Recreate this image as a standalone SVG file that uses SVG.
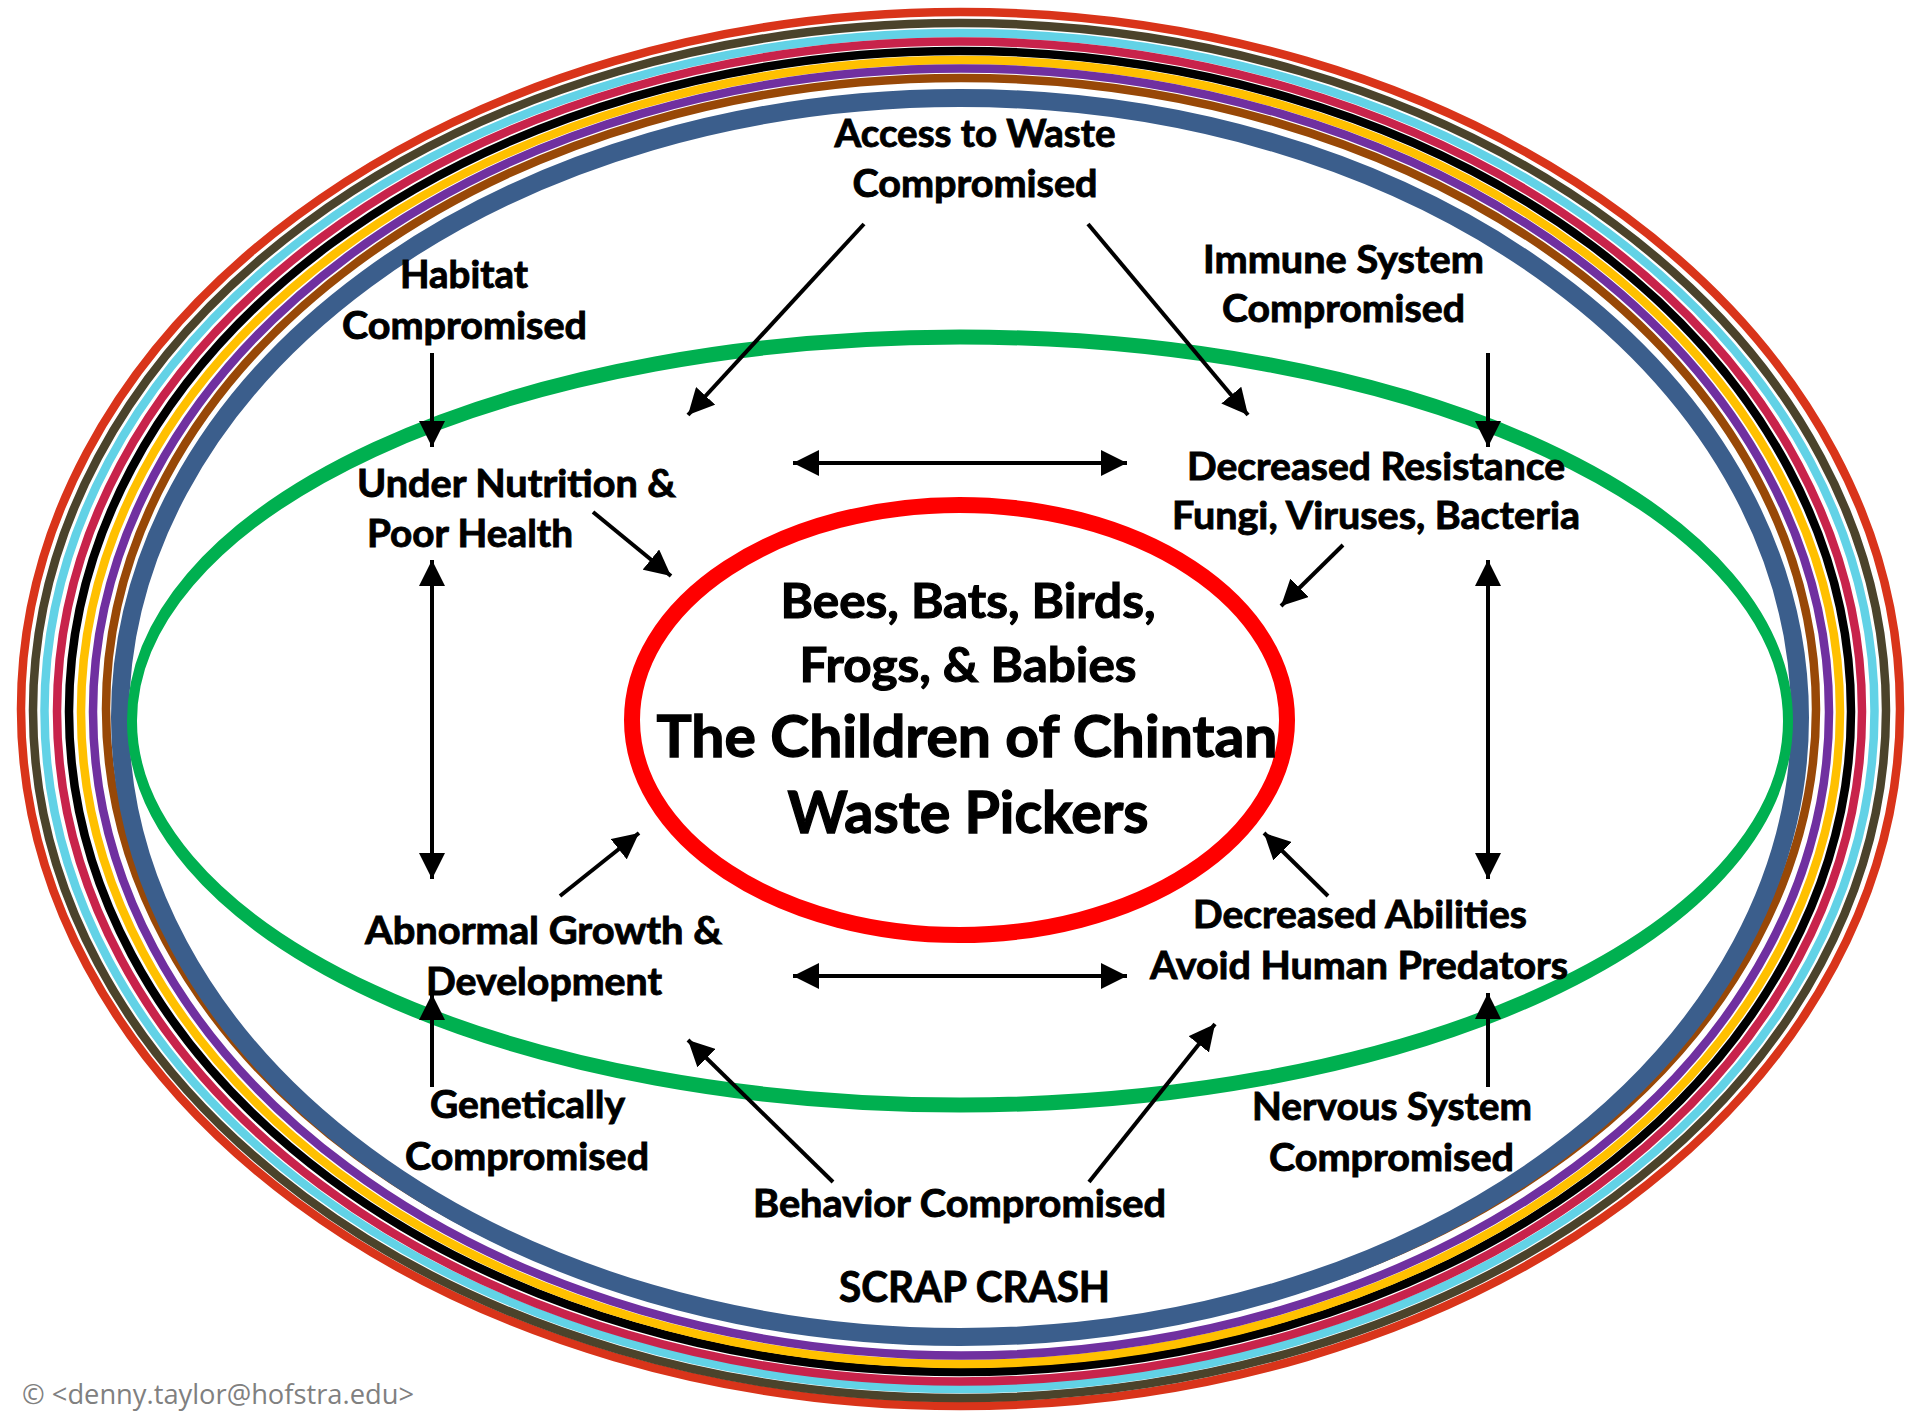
<svg xmlns="http://www.w3.org/2000/svg" width="1920" height="1411" viewBox="0 0 1920 1411">
<style>
.ring{fill:none;stroke-width:8.5}
.ring.thick{stroke-width:18}
.lbl{font-family:Lato,"Open Sans","Liberation Sans",sans-serif;font-weight:bold;font-size:38.5px;fill:#000;stroke:#000;stroke-width:0.9;text-anchor:middle}
.ctr{font-size:47.5px;stroke-width:1.1}
.big{font-size:57.5px;stroke-width:1.3}
.scrap{font-size:42.5px}
.lft{text-anchor:start}
.conn{stroke:#000;stroke-width:4;fill:none}
.copy{font-family:"Open Sans","Noto Sans","Liberation Sans",sans-serif;font-size:28px;fill:#808080}
</style>
<defs>
<marker id="ah" viewBox="0 0 26 26" refX="26" refY="13" markerWidth="26" markerHeight="26" markerUnits="userSpaceOnUse" orient="auto-start-reverse">
<path d="M0,0 L26,13 L0,26 z" fill="#000"/>
</marker>
</defs>
<rect width="1920" height="1411" fill="#fff"/>
<g id="rings">
<ellipse class="ring" cx="960.5" cy="709" rx="939.5" ry="697" stroke="#D9341A"/>
<ellipse class="ring" cx="959.5" cy="710.5" rx="926.5" ry="687.5" stroke="#4B432B"/>
<ellipse class="ring" cx="959.5" cy="711" rx="915" ry="678" stroke="#62D2E6"/>
<ellipse class="ring" cx="959.5" cy="711.5" rx="902.5" ry="670" stroke="#C8234B"/>
<ellipse class="ring" cx="960" cy="711.5" rx="891" ry="660.5" stroke="#000000"/>
<ellipse class="ring" cx="960.5" cy="712" rx="879.5" ry="652" stroke="#FFC000"/>
<ellipse class="ring" cx="961" cy="712" rx="868" ry="643.5" stroke="#7030A0"/>
<ellipse class="ring" cx="961" cy="709" rx="855" ry="631" stroke="#984807"/>
<ellipse class="ring thick" cx="960" cy="717.5" rx="840" ry="619.5" stroke="#3B5E8C"/>
<g transform="translate(960,721) scale(1,1.5)">
<ellipse cx="0" cy="0" rx="828" ry="256" fill="none" stroke="#00B050" stroke-width="10"/>
</g>
</g>
<g id="center">
<ellipse cx="959.5" cy="720" rx="327.5" ry="215" fill="none" stroke="#FF0000" stroke-width="16"/>
<text class="lbl ctr" x="968" y="618" textLength="375" lengthAdjust="spacingAndGlyphs">Bees, Bats, Birds,</text>
<text class="lbl ctr" x="968" y="682" textLength="337" lengthAdjust="spacingAndGlyphs">Frogs, &amp; Babies</text>
<text class="lbl big" x="967" y="757" textLength="621" lengthAdjust="spacingAndGlyphs">The Children of Chintan</text>
<text class="lbl big" x="968" y="833" textLength="361" lengthAdjust="spacingAndGlyphs">Waste Pickers</text>
</g>
<g id="access">
<text class="lbl" x="975" y="147" textLength="281" lengthAdjust="spacingAndGlyphs">Access to Waste</text>
<text class="lbl" x="975" y="197" textLength="245" lengthAdjust="spacingAndGlyphs">Compromised</text>
</g>
<g id="habitat">
<text class="lbl" x="464" y="288" textLength="128" lengthAdjust="spacingAndGlyphs">Habitat</text>
<text class="lbl" x="464.5" y="339" textLength="245" lengthAdjust="spacingAndGlyphs">Compromised</text>
</g>
<g id="immune">
<text class="lbl" x="1343.5" y="273" textLength="281" lengthAdjust="spacingAndGlyphs">Immune System</text>
<text class="lbl" x="1343.5" y="322" textLength="243" lengthAdjust="spacingAndGlyphs">Compromised</text>
</g>
<g id="nutrition">
<text class="lbl lft" x="357" y="497" textLength="319" lengthAdjust="spacingAndGlyphs">Under Nutrition &amp;</text>
<text class="lbl lft" x="367" y="547" textLength="206" lengthAdjust="spacingAndGlyphs">Poor Health</text>
</g>
<g id="resistance">
<text class="lbl" x="1376" y="480" textLength="378" lengthAdjust="spacingAndGlyphs">Decreased Resistance</text>
<text class="lbl" x="1376" y="529" textLength="408" lengthAdjust="spacingAndGlyphs">Fungi, Viruses, Bacteria</text>
</g>
<g id="growth">
<text class="lbl" x="543.5" y="944" textLength="357" lengthAdjust="spacingAndGlyphs">Abnormal Growth &amp;</text>
<text class="lbl" x="544" y="995" textLength="236" lengthAdjust="spacingAndGlyphs">Development</text>
</g>
<g id="abilities">
<text class="lbl" x="1360" y="928" textLength="334" lengthAdjust="spacingAndGlyphs">Decreased Abilities</text>
<text class="lbl" x="1359" y="979" textLength="418" lengthAdjust="spacingAndGlyphs">Avoid Human Predators</text>
</g>
<g id="genetic">
<text class="lbl" x="527.5" y="1118" textLength="195" lengthAdjust="spacingAndGlyphs">Genetically</text>
<text class="lbl" x="527" y="1170" textLength="244" lengthAdjust="spacingAndGlyphs">Compromised</text>
</g>
<g id="nervous">
<text class="lbl" x="1392" y="1120" textLength="280" lengthAdjust="spacingAndGlyphs">Nervous System</text>
<text class="lbl" x="1391.5" y="1171" textLength="245" lengthAdjust="spacingAndGlyphs">Compromised</text>
</g>
<g id="behavior">
<text class="lbl" x="959.5" y="1217" textLength="413" lengthAdjust="spacingAndGlyphs">Behavior Compromised</text>
</g>
<g id="scrap">
<text class="lbl scrap" x="974.5" y="1302" textLength="271" lengthAdjust="spacingAndGlyphs">SCRAP CRASH</text>
</g>
<g id="copyright">
<text class="copy" x="22" y="1404" textLength="392" lengthAdjust="spacingAndGlyphs">© &lt;denny.taylor@hofstra.edu&gt;</text>
</g>
<g id="connectors">
<line class="conn" x1="864" y1="224" x2="688" y2="415" marker-end="url(#ah)"/>
<line class="conn" x1="1088" y1="224" x2="1248" y2="415" marker-end="url(#ah)"/>
<line class="conn" x1="432" y1="353" x2="432" y2="447" marker-end="url(#ah)"/>
<line class="conn" x1="1488" y1="353" x2="1488" y2="447" marker-end="url(#ah)"/>
<line class="conn" x1="593" y1="512" x2="671" y2="576" marker-end="url(#ah)"/>
<line class="conn" x1="1343" y1="545" x2="1281" y2="606" marker-end="url(#ah)"/>
<line class="conn" x1="793" y1="463" x2="1127" y2="463" marker-start="url(#ah)" marker-end="url(#ah)"/>
<line class="conn" x1="432" y1="560" x2="432" y2="879" marker-start="url(#ah)" marker-end="url(#ah)"/>
<line class="conn" x1="1488" y1="560" x2="1488" y2="879" marker-start="url(#ah)" marker-end="url(#ah)"/>
<line class="conn" x1="560" y1="896" x2="639" y2="833" marker-end="url(#ah)"/>
<line class="conn" x1="1328" y1="896" x2="1264" y2="833" marker-end="url(#ah)"/>
<line class="conn" x1="793" y1="976" x2="1127" y2="976" marker-start="url(#ah)" marker-end="url(#ah)"/>
<line class="conn" x1="432" y1="1087" x2="432" y2="994" marker-end="url(#ah)"/>
<line class="conn" x1="1488" y1="1087" x2="1488" y2="993" marker-end="url(#ah)"/>
<line class="conn" x1="833" y1="1182" x2="688" y2="1040" marker-end="url(#ah)"/>
<line class="conn" x1="1089" y1="1182" x2="1215" y2="1024" marker-end="url(#ah)"/>
</g>
</svg>
